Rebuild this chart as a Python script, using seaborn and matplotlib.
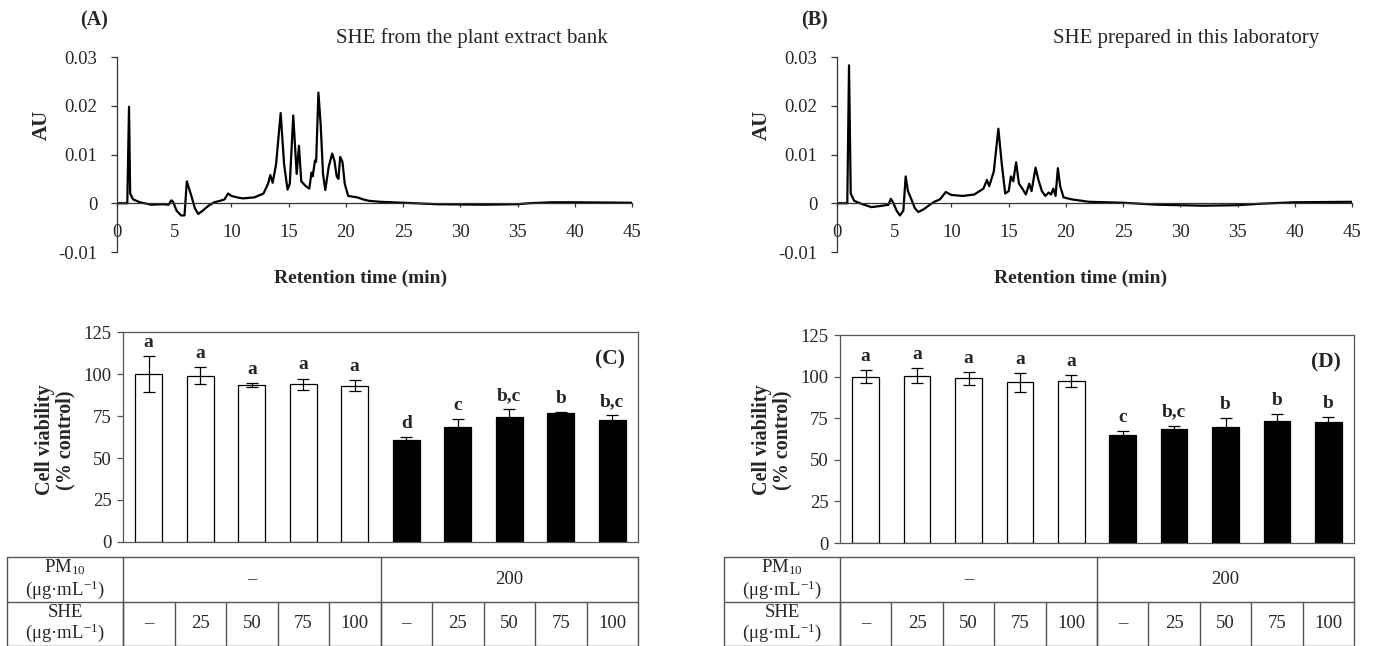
import numpy as np
import pandas as pd
import matplotlib
matplotlib.use("Agg")
import matplotlib.pyplot as plt
import seaborn as sns

# ---- chromatogram traces (retention time in min, absorbance AU) ----
rt_a = [0, 0.9, 1.05, 1.15, 1.4, 2, 3, 4, 4.5, 4.75, 4.9, 5.2, 5.6, 5.9, 6.1, 6.3, 6.5, 6.8,
        7.1, 7.5, 8, 8.5, 9, 9.4, 9.7, 10, 10.5, 11, 12, 12.8, 13.2, 13.4, 13.6, 13.9, 14.3,
        14.6, 14.9, 15.1, 15.4, 15.7, 15.9, 16.1, 16.5, 16.8, 17.0, 17.1, 17.3, 17.4, 17.6,
        17.8, 18.0, 18.2, 18.5, 18.8, 19.0, 19.2, 19.35, 19.5, 19.7, 19.9, 20.2, 21, 21.5,
        22, 23, 25, 28, 32, 35, 36, 38, 40, 45]
au_a = [0, 0, 0.0198, 0.002, 0.0008, 0.0002, -0.0003, -0.0002, -0.0003, 0.0006, 0.0003,
        -0.0015, -0.0025, -0.0025, 0.0045, 0.003, 0.0015, -0.001, -0.0022, -0.0015, -0.0005,
        0.0002, 0.0005, 0.0008, 0.002, 0.0015, 0.0012, 0.001, 0.0012, 0.002, 0.004, 0.0058,
        0.0042, 0.008, 0.0185, 0.008, 0.0028, 0.004, 0.018, 0.006, 0.0118, 0.0045, 0.0035,
        0.003, 0.0063, 0.0055, 0.0088, 0.0085, 0.0227, 0.016, 0.006, 0.0027, 0.0075, 0.0102,
        0.0087, 0.0055, 0.005, 0.0095, 0.0085, 0.004, 0.0015, 0.0012, 0.0008, 0.0005, 0.0003,
        0.0001, -0.0002, -0.0003, -0.0002, 0, 0.0002, 0.0002, 0.0001]

rt_b = [0, 0.9, 1.05, 1.2, 1.5, 2, 3, 4, 4.5, 4.7, 4.9, 5.2, 5.5, 5.8, 6.0, 6.2, 6.5, 6.8,
        7.1, 7.6, 8, 8.5, 9, 9.5, 10, 11, 12, 12.8, 13.1, 13.3, 13.7, 14.1, 14.4, 14.7, 15.0,
        15.2, 15.4, 15.65, 15.9, 16.2, 16.5, 16.8, 17.0, 17.35, 17.6, 17.9, 18.2, 18.5, 18.7,
        18.9, 19.1, 19.3, 19.5, 19.8, 20.5, 22, 25, 28, 32, 35, 37, 40, 45]
au_b = [0, 0, 0.0283, 0.002, 0.0005, 0, -0.0008, -0.0005, -0.0003, 0.0009, 0.0002, -0.0015,
        -0.0025, -0.0015, 0.0055, 0.0025, 0.0008, -0.001, -0.0018, -0.0012, -0.0005, 0.0003,
        0.0008, 0.0023, 0.0017, 0.0015, 0.0018, 0.003, 0.0048, 0.0035, 0.0065, 0.0153, 0.008,
        0.002, 0.0025, 0.0055, 0.0045, 0.0084, 0.004, 0.003, 0.0018, 0.004, 0.0025, 0.0073,
        0.0048, 0.0025, 0.0015, 0.0022, 0.0018, 0.003, 0.0015, 0.0072, 0.0035, 0.0012, 0.0008,
        0.0003, 0.0001, -0.0003, -0.0005, -0.0004, -0.0001, 0.0002, 0.0003]

# ---- cell viability ----
pm_levels = ["–"] * 5 + ["200"] * 5
she_levels = ["–", "25", "50", "75", "100"] * 2
viab_c = [100, 99, 93.5, 94, 93, 60.5, 68.5, 74.5, 76.5, 72.5]
err_c = [10.5, 5, 1, 3.3, 3.3, 1.8, 4.5, 4.5, 1, 3]
let_c = ["a", "a", "a", "a", "a", "d", "c", "b,c", "b", "b,c"]
viab_d = [100, 100.5, 99, 96.5, 97.5, 65, 68.5, 70, 73.5, 73]
err_d = [4, 4.5, 4, 5.5, 3.5, 2.5, 2, 5, 4, 3]
let_d = ["a", "a", "a", "a", "a", "c", "b,c", "b", "b", "b"]

chrom_yticks = [-0.01, 0, 0.01, 0.02, 0.03]
chrom_ylabels = ["-0.01", "0", "0.01", "0.02", "0.03"]

sns.set_theme(style="ticks")
plt.rcParams["font.family"] = ["Liberation Serif", "DejaVu Serif"]
plt.rcParams["mathtext.fontset"] = "custom"
plt.rcParams["mathtext.rm"] = "Liberation Serif"
plt.rcParams["mathtext.it"] = "Liberation Serif:italic"
plt.rcParams["mathtext.bf"] = "Liberation Serif:bold"

W, H = 1376, 646
fig = plt.figure(figsize=(W / 100, H / 100), dpi=100)
FS = 13.5


def box(l, t, r, b):
    return [l / W, 1 - b / H, (r - l) / W, (b - t) / H]


def chrom(rect, rt, au, tag, title, tag_x, title_x, au_x, xl_x):
    ax = fig.add_axes(box(*rect))
    sns.lineplot(x=rt, y=au, ax=ax, color="black", lw=1.6, sort=False)
    ax.set_xlim(0, 45)
    ax.set_ylim(-0.01, 0.03)
    ax.spines["top"].set_visible(False)
    ax.spines["right"].set_visible(False)
    ax.spines["bottom"].set_position(("data", 0))
    for s in ["left", "bottom"]:
        ax.spines[s].set_color("#333333")
        ax.spines[s].set_linewidth(0.9)
    ax.set_xticks(range(0, 46, 5))
    ax.set_yticks(chrom_yticks)
    ax.set_yticklabels(chrom_ylabels)
    ax.tick_params(axis="x", length=3, pad=12, labelsize=FS, width=0.9, color="#333333")
    ax.tick_params(axis="y", length=4, pad=10, labelsize=FS, width=0.9, color="#333333")
    ax.set_xlabel("")
    ax.set_ylabel("")
    fig.text(tag_x / W, 1 - 20 / H, tag, fontsize=14.5, fontweight="bold", ha="center", va="center")
    fig.text(title_x / W, 1 - 38 / H, title, fontsize=15, ha="center", va="center")
    fig.text(au_x / W, 1 - 125 / H, "AU", fontsize=15, fontweight="bold", rotation=90,
             ha="center", va="center")
    fig.text(xl_x / W, 1 - 278 / H, "Retention time (min)", fontsize=14, fontweight="bold",
             ha="center", va="center")


chrom((117, 57, 632, 252), rt_a, au_a, "(A)", "SHE from the plant extract bank", 94, 472, 42, 361)
chrom((837, 57, 1352, 252), rt_b, au_b, "(B)", "SHE prepared in this laboratory", 814, 1186, 762, 1081)


def viability(rect, table_left, viab, err, letters, tag, ylab_x):
    l, t, r, b = rect
    ax = fig.add_axes(box(*rect))
    df = pd.DataFrame({"pos": range(10), "viab": viab,
                       "pm": ["none" if p == "–" else "pm" for p in pm_levels]})
    sns.barplot(data=df, x="pos", y="viab", hue="pm", palette={"none": "white", "pm": "black"},
                edgecolor="black", linewidth=0.9, width=0.52, dodge=False, legend=False, ax=ax)
    ax.errorbar(range(10), viab, yerr=err, fmt="none", ecolor="black", elinewidth=0.9,
                capsize=4, capthick=0.9)
    for i, (v, e, s) in enumerate(zip(viab, err, letters)):
        ax.text(i, v + e + 3, s, ha="center", va="bottom", fontsize=14, fontweight="bold")
    ax.set_xlim(-0.5, 9.5)
    ax.set_ylim(0, 125)
    ax.set_yticks(range(0, 126, 25))
    ax.set_xticks([])
    ax.set_xlabel("")
    ax.set_ylabel("")
    for s in ax.spines.values():
        s.set_color("#555555")
        s.set_linewidth(0.9)
    ax.tick_params(axis="y", length=4, pad=4, labelsize=FS, width=0.9, color="#555555")
    ax.text(0.975, 0.87, tag, transform=ax.transAxes, ha="right", va="center",
            fontsize=15.5, fontweight="bold")
    fig.text(ylab_x / W, 1 - 440 / H, "Cell viability\n(% control)", rotation=90,
             fontsize=14.5, fontweight="bold", ha="center", va="center", linespacing=1.0)

    # condition table below the bars
    unit = (r - l) / 10.0
    x0 = -0.5 - (l - table_left) / unit
    tab = fig.add_axes(box(table_left, 557, r, 646))
    tab.set_xlim(x0, 9.5)
    tab.set_ylim(0, 2)
    tab.axis("off")
    lc = "#555555"
    for y in [0.0, 1.0, 2.0]:
        tab.plot([x0, 9.5], [y, y], color=lc, lw=1, clip_on=False)
    for x in [x0, -0.5, 4.5, 9.5]:
        tab.plot([x, x], [0, 2], color=lc, lw=1, clip_on=False)
    for k in range(10):
        tab.plot([k - 0.5, k - 0.5], [0, 1], color=lc, lw=1, clip_on=False)
    hx = (x0 - 0.5) / 2
    tab.text(hx, 1.5, "PM$_{10}$\n(μg·mL$^{-1}$)", ha="center", va="center", fontsize=FS,
             linespacing=1.05)
    tab.text(hx, 0.5, "SHE\n(μg·mL$^{-1}$)", ha="center", va="center", fontsize=FS,
             linespacing=1.05)
    tab.text(2, 1.5, pm_levels[0], ha="center", va="center", fontsize=FS)
    tab.text(7, 1.5, pm_levels[5], ha="center", va="center", fontsize=FS)
    for k, s in enumerate(she_levels):
        tab.text(k, 0.5, s, ha="center", va="center", fontsize=FS)


viability((123, 332, 638, 542), 7, viab_c, err_c, let_c, "(C)", 55)
viability((840, 335, 1354, 543), 724, viab_d, err_d, let_d, "(D)", 772)

fig.savefig("out.png", dpi=100, facecolor="white")
